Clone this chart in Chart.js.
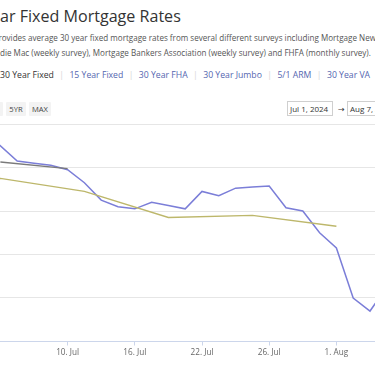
<!DOCTYPE html>
<html>
<head>
<meta charset="utf-8">
<script src="https://cdn.jsdelivr.net/npm/chart.js@4/dist/chart.umd.min.js"></script>
<style>
  html, body { margin:0; padding:0; background:#fff; }
  body { width:375px; height:366px; overflow:hidden; position:relative; font-family:"Open Sans", "DejaVu Sans", sans-serif; }
  .ln { position:absolute; white-space:nowrap; line-height:1; left:0; top:0; }
  .bl { display:inline-block; width:0; height:0; vertical-align:baseline; }
  #title { font-size:17px; color:#333; }
  .desc { font-size:8px; color:#555; }
  #tabs { font-size:9px; color:#5466b0; }
  #tabs .cur { color:#333; }
  #tabs .sep { color:#d6d6d6; margin:0 0.62em; }
  .btn { position:absolute; top:102px; height:14px; background:#f3f3f3; color:#444; font-size:7.6px; line-height:14px; text-align:center; border-radius:1px; }
  .inp { position:absolute; top:101px; height:15px; border:1px solid #cfcfcf; background:#fff; color:#333; font-size:8px; line-height:13px; padding:0 2px; box-sizing:border-box; white-space:nowrap; }
  .arrow { position:absolute; top:101px; height:15px; line-height:15px; font-size:8px; color:#333; }
  #wrap { position:absolute; left:0; top:120px; width:375px; height:246px; }
</style>
</head>
<body>
<div id="title" class="ln"><span class="pre">30 Ye</span><span class="vis">ar Fixed Mortgage Rates</span><span class="bl"></span></div>
<div id="d1" class="ln desc"><span class="pre">This chart pr</span><span class="vis">ovides average 30 year fixed mortgage rates from several different surveys including Mortgage News Daily (daily index),</span><span class="bl"></span></div>
<div id="d2" class="ln desc"><span class="pre">Fred</span><span class="vis">die Mac (weekly survey), Mortgage Bankers Association (weekly survey) and FHFA (monthly survey).</span><span class="bl"></span></div>
<div id="tabs" class="ln"><span class="vis"><span class="cur">30 Year Fixed</span><span class="sep">|</span>15 Year Fixed<span class="sep">|</span>30 Year FHA<span class="sep">|</span>30 Year Jumbo<span class="sep">|</span>5/1 ARM<span class="sep">|</span>30 Year VA</span><span class="bl"></span></div>

<div class="btn" style="left:-22px;width:25px;">3YR</div>
<div class="btn" style="left:6px;width:20px;">5YR</div>
<div class="btn" style="left:29px;width:22px;">MAX</div>
<div class="inp" style="left:287px;width:46px;">Jul 1, 2024</div>
<div class="arrow" style="left:338px;">→</div>
<div class="inp" style="left:347px;width:48px;">Aug 7, 2024</div>

<div id="wrap"><canvas id="c" width="375" height="246"></canvas></div>

<script>
// ---- data (business days; Highstock-style ordinal x axis) ----
const dates = ['Jun 27','Jun 28','Jul 1','Jul 2','Jul 3','Jul 5','Jul 8','Jul 9','Jul 10','Jul 11','Jul 12',
  'Jul 15','Jul 16','Jul 17','Jul 18','Jul 19','Jul 22','Jul 23','Jul 24','Jul 25','Jul 26',
  'Jul 29','Jul 30','Jul 31','Aug 1','Aug 2','Aug 5','Aug 6','Aug 7'];
// Mortgage News Daily (daily index)
const mndRates = [null, null, 7.10, 7.16, 7.10, 7.03, 7.02, 7.01, 6.99, 6.93, 6.85,
  6.82, 6.81, 6.84, 6.825, 6.81, 6.89, 6.87, 6.905, 6.91, 6.915,
  6.815, 6.80, 6.70, 6.63, 6.40, 6.34, 6.45, 6.46];
// Freddie Mac (weekly survey)
const freddieRates = [6.86, null, null, null, 6.95, null, null, null, null, 6.89, null,
  null, null, null, 6.77, null, null, null, null, 6.78, null,
  null, null, null, 6.73, null, null, null, null];
// other weekly survey (grey)
const weeklyRates = [null, null, null, null, 7.025, null, null, null, 6.995, null, null,
  null, null, null, null, null, null, null, null, null, null,
  null, null, null, null, null, null, null, null];
const tickDates = ['Jul 10','Jul 16','Jul 22','Jul 26','Aug 1'];
const tickLabels = ['10. Jul','16. Jul','22. Jul','26. Jul','1. Aug'];
const yTicks = [6.2, 6.4, 6.6, 6.8, 7.0, 7.2];

// ---- header text placement ----
function place(id, left, width, baseline) {
  const el = document.getElementById(id);
  const vis = el.querySelector('.vis'), pre = el.querySelector('.pre'), bl = el.querySelector('.bl');
  if (width) {
    for (let i = 0; i < 3; i++) {
      const w = vis.getBoundingClientRect().width;
      const fs = parseFloat(getComputedStyle(el).fontSize);
      el.style.fontSize = (fs * width / w) + 'px';
    }
  }
  el.style.left = (left - (pre ? pre.getBoundingClientRect().width : 0)) + 'px';
  const b = bl.getBoundingClientRect().top;
  const t = parseFloat(el.style.top || 0);
  el.style.top = (t + baseline - b) + 'px';
}
place('title', 0, 181, 22);
place('d2', 0, 371, 55.5);
document.getElementById('d1').style.fontSize = document.getElementById('d2').style.fontSize;
place('d1', 1.7, 0, 40.8);
place('tabs', 0, 370, 77.5);

// ---- chart ----
const pts = arr => arr.map((v, i) => ({ x: i, y: v })).filter(p => p.y !== null);
const xMin = 4 - 0.4 / 16.8;
const xMax = xMin + 375 / 16.8;
const tickIdx = tickDates.map(d => dates.indexOf(d));

new Chart(document.getElementById('c'), {
  type: 'line',
  data: {
    datasets: [
      { label: 'Freddie Mac', data: pts(freddieRates), borderColor: '#bdb76b', borderWidth: 1.4, pointRadius: 0, tension: 0, fill: false },
      { label: 'Weekly survey', data: pts(weeklyRates), borderColor: '#7a7a7a', borderWidth: 1.4, pointRadius: 0, tension: 0, fill: false },
      { label: 'Mortgage News Daily', data: pts(mndRates), borderColor: '#7b7ed8', borderWidth: 1.5, pointRadius: 0, tension: 0, fill: false }
    ]
  },
  options: {
    responsive: false,
    animation: false,
    devicePixelRatio: 1,
    layout: { padding: { top: 4, bottom: 4.5, left: 0, right: 0 } },
    plugins: { legend: { display: false }, tooltip: { enabled: false } },
    scales: {
      x: {
        type: 'linear',
        min: xMin, max: xMax,
        afterBuildTicks: s => { s.ticks = tickIdx.map(v => ({ value: v })); },
        afterFit: s => { s.height = 20; },
        ticks: {
          autoSkip: false, maxRotation: 0, padding: 2,
          color: '#666',
          font: { family: '"Open Sans", sans-serif', size: 8.2 },
          callback: v => { const k = tickIdx.indexOf(v); return k >= 0 ? tickLabels[k] : ''; }
        },
        grid: { drawOnChartArea: false, drawTicks: true, tickLength: 4, color: '#ccd6eb' },
        border: { display: true, color: '#ccd6eb', width: 1 }
      },
      y: {
        type: 'linear',
        min: 6.2, max: 7.2,
        afterBuildTicks: s => { s.ticks = yTicks.map(v => ({ value: v })); },
        afterFit: s => { s.width = 0; },
        ticks: { display: false },
        grid: { drawTicks: false, color: c => (c.tick && Math.abs(c.tick.value - 6.2) < 1e-6) ? 'rgba(0,0,0,0)' : '#e6e6e6' },
        border: { display: false }
      }
    }
  }
});
</script>
</body>
</html>
